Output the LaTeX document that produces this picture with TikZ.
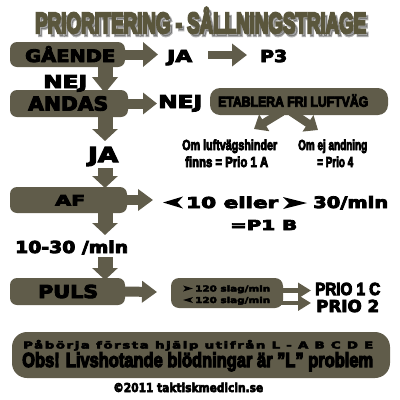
\documentclass[tikz,border=0pt]{standalone}
\usepackage{fontspec}
\setmainfont{DejaVu Sans}
\newfontfamily\HV{DejaVu Sans Bold}[FakeBold=5]
\newfontfamily\CD{Liberation Sans Bold}[FakeBold=6]
\newfontfamily\CX{Liberation Sans Bold}[FakeBold=8]
\usetikzlibrary{arrows.meta}
\definecolor{boxcol}{RGB}{96,92,74}
\definecolor{titlecol}{RGB}{90,86,60}
\newcommand\fitt[4]{\resizebox{#1pt}{#2pt}{#3\smash{#4}\vphantom{E}}}
\tikzset{
  box/.style={fill=boxcol, draw=none, rounded corners=7pt, inner sep=0pt},
  txt/.style={inner sep=0pt, anchor=base west},
  blk/.style={draw=boxcol, line width=#1},
  blk/.default=10pt,
}
\begin{document}
\begin{tikzpicture}[x=1pt,y=-1pt]
\useasboundingbox[fill=white] (0,0) rectangle (400,400);
% title with shadow
\node[txt, text=black, opacity=0.3] (tshadow) at (37.5,36) {\fitt{331}{20}{\CX}{PRIORITERING - SÅLLNINGSTRIAGE}};
\node[txt, text=titlecol] (title) at (35,33) {\fitt{331}{20}{\CX}{PRIORITERING - SÅLLNINGSTRIAGE}};
% boxes
\node[box, minimum width=115pt, minimum height=25pt] (gaende) at (67.5,54.5) {};
\node[box, minimum width=118pt, minimum height=27pt] (andas) at (69,103.5) {};
\node[box, minimum width=178pt, minimum height=27pt, rounded corners=10pt] (etabl) at (299,101.5) {};
\node[box, minimum width=117pt, minimum height=26pt] (af) at (68.5,200) {};
\node[box, minimum width=115pt, minimum height=27pt] (puls) at (67.5,291.5) {};
\node[box, minimum width=112pt, minimum height=30pt, rounded corners=8pt] (slag) at (227,293) {};
\node[box, minimum width=378pt, minimum height=46pt, rounded corners=15pt] (obs) at (201,355) {};
% arrow coordinates
\coordinate (a1e) at (158,54.5);
\coordinate (a2s) at (208,55); \coordinate (a2e) at (247,55);
\coordinate (d1s) at (105,64); \coordinate (d1e) at (105,93);
\coordinate (a4e) at (157,103.5);
\coordinate (d2s) at (105,115); \coordinate (d2e) at (105,141);
\coordinate (d3s) at (105,168); \coordinate (d3e) at (105,188);
\coordinate (a7e) at (153,200);
\coordinate (d4s) at (105,211); \coordinate (d4e) at (105,235);
\coordinate (d5s) at (105,257); \coordinate (d5e) at (105,280);
\coordinate (a10e) at (157,292);
\coordinate (e1s) at (282,112); \coordinate (e1e) at (254,129);
\coordinate (e2s) at (291,112); \coordinate (e2e) at (318,130);
\coordinate (s1s) at (279,290.5); \coordinate (s1e) at (311,290.5);
\coordinate (s2s) at (279,303); \coordinate (s2e) at (311,303);
% block arrows
\draw[blk=10pt, -{Triangle[length=15pt,width=24pt]}] ([xshift=-3pt]gaende.east) -- (a1e);
\draw[blk=8pt, -{Triangle[length=15pt,width=22pt]}] (a2s) -- (a2e);
\draw[blk=15pt, -{Triangle[length=16pt,width=25pt]}] (d1s) -- (d1e);
\draw[blk=10pt, -{Triangle[length=14pt,width=21pt]}] ([xshift=-3pt]andas.east) -- (a4e);
\draw[blk=15pt, -{Triangle[length=12pt,width=25pt]}] (d2s) -- (d2e);
\draw[blk=15pt, -{Triangle[length=12pt,width=25pt]}] (d3s) -- (d3e);
\draw[blk=10pt, -{Triangle[length=15pt,width=21pt]}] ([xshift=-3pt]af.east) -- (a7e);
\draw[blk=15pt, -{Triangle[length=12pt,width=25pt]}] (d4s) -- (d4e);
\draw[blk=15pt, -{Triangle[length=12pt,width=25pt]}] (d5s) -- (d5e);
\draw[blk=10pt, -{Triangle[length=15pt,width=21pt]}] ([xshift=-3pt]puls.east) -- (a10e);
\draw[blk=8pt, -{Triangle[length=12pt,width=19pt]}] (e1s) -- (e1e);
\draw[blk=8pt, -{Triangle[length=12pt,width=19pt]}] (e2s) -- (e2e);
\draw[blk=4.5pt, -{Triangle[length=13pt,width=15pt]}] (s1s) -- (s1e);
\draw[blk=4.5pt, -{Triangle[length=13pt,width=15pt]}] (s2s) -- (s2e);
% texts
\node[txt] (tgaende) at (25,62) {\fitt{90}{12.5}{\HV}{GÅENDE}};
\node[txt] (tja1) at (167,62) {\fitt{25}{12}{\HV}{JA}};
\node[txt] (tp3) at (260,62) {\fitt{27}{12}{\HV}{P3}};
\node[txt] (tnej1) at (43,88) {\fitt{44}{13}{\HV}{NEJ}};
\node[txt] (tandas) at (28,110.5) {\fitt{80}{14}{\HV}{ANDAS}};
\node[txt] (tnej2) at (158,108) {\fitt{44}{13}{\HV}{NEJ}};
\node[txt] (tetabl) at (218,106.7) {\fitt{150}{10}{\CD}{ETABLERA FRI LUFTVÄG}};
\node[txt] (tom1) at (182,150) {\fitt{95}{10}{\CD}{Om luftvägshinder}};
\node[txt] (tom2) at (185,167) {\fitt{83}{10}{\CD}{finns = Prio 1 A}};
\node[txt] (tom3) at (298,150) {\fitt{69}{10}{\CD}{Om ej andning}};
\node[txt] (tom4) at (317,167) {\fitt{36}{10}{\CD}{= Prio 4}};
\node[txt] (tja2) at (88,162) {\fitt{30}{15}{\HV}{JA}};
\node[txt] (taf) at (55,205.5) {\fitt{30}{10.5}{\HV}{AF}};
\node[txt] (teller) at (186,208) {\fitt{92}{11}{\HV}{10 eller}};
\node[txt] (t30) at (313,208) {\fitt{75}{11.5}{\HV}{30/min}};
\node[txt] (tp1b) at (230,230) {\fitt{67}{10}{\HV}{=P1 B}};
\node[txt] (t1030) at (15,253) {\fitt{113}{12}{\HV}{10-30 /min}};
\node[txt] (tpuls) at (38,298) {\fitt{60}{13}{\HV}{PULS}};
\node[txt] (tslag1) at (195,291.5) {\fitt{75}{6}{\HV}{120 slag/min}};
\node[txt] (tslag2) at (195,303) {\fitt{75}{6}{\HV}{120 slag/min}};
\node[txt] (tprio1) at (315,295) {\fitt{65}{12}{\CD}{PRIO 1 C}};
\node[txt] (tprio2) at (316,312) {\fitt{63}{12}{\HV}{PRIO 2}};
\node[txt] (tpab) at (23,348.5) {\fitt{350}{7}{\HV\addfontfeatures{LetterSpace=12}}{Påbörja första hjälp utifrån L - A B C D E}};
\node[txt] (tobs) at (22,367) {\fitt{351}{14}{\CD}{Obs! Livshotande blödningar är ”L” problem}};
\node[txt] (tcopy) at (113,392) {\fitt{150}{9}{\HV}{©2011 taktiskmedicin.se}};
% triangle glyphs
\fill (183,196.5) -- (163,202.5) -- (183,208.5) -- (177.5,202.5) -- cycle;
\fill (283,197) -- (307,203) -- (283,209) -- (289,203) -- cycle;
\fill (183,285.5) -- (193,288.5) -- (183,291.5) -- (185.5,288.5) -- cycle;
\fill (193,297) -- (183,300) -- (193,303) -- (190.5,300) -- cycle;
\end{tikzpicture}
\end{document}
